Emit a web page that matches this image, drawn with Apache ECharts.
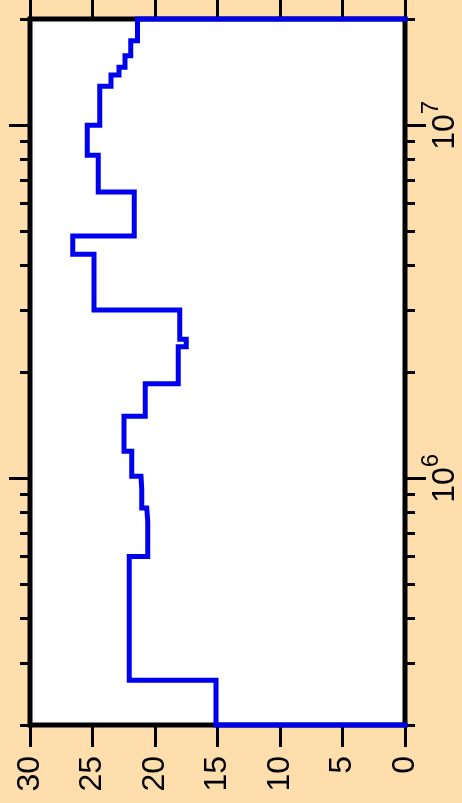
<!DOCTYPE html>
<html><head><meta charset="utf-8">
<script src="https://cdn.jsdelivr.net/npm/echarts@6/dist/echarts.min.js"></script>
<style>html,body{margin:0;padding:0;background:#FFDEAD;} #c{width:462px;height:803px;}</style>
</head><body><div id="c"></div>
<script>
// Step boundaries along the log axis and the value held on each step
const stepEdges = [2e5, 2.68e5, 6.0e5, 7.55e5, 8.24e5, 9.29e5, 1.013e6, 1.192e6, 1.498e6, 1.853e6,
  2.359e6, 2.476e6, 2.995e6, 4.31e6, 4.857e6, 6.475e6, 8.226e6, 1.0e7, 1.289e7, 1.387e7,
  1.459e7, 1.573e7, 1.736e7, 2e7];
const stepValues = [15.12, 22.06, 20.58, 20.66, 21.06, 21.12, 21.86, 22.48, 20.78, 18.14,
  17.5, 18.02, 24.88, 26.58, 21.66, 24.54, 25.42, 24.42, 23.52, 22.88,
  22.4, 21.94, 21.4];
const valueMin = 0, valueMax = 30, valueStep = 5;
const logMin = 2e5, logMax = 2e7;
const majorLogTicks = [1e6, 1e7];
const minorLogTicks = [2e5, 3e5, 4e5, 5e5, 6e5, 7e5, 8e5, 9e5, 2e6, 3e6, 4e6, 5e6, 6e6, 7e6, 8e6, 9e6, 2e7];

const pts = [[0, stepEdges[0]]];
for (let i = 0; i < stepValues.length; i++) {
  pts.push([stepValues[i], stepEdges[i]]);
  pts.push([stepValues[i], stepEdges[i + 1]]);
}
pts.push([0, stepEdges[stepEdges.length - 1]]);

const FONT = 'Liberation Sans, Arial, Helvetica, sans-serif';
const tickStyle = {color: '#000', width: 3};

function xAx(pos, showLabel) {
  return {
    type: 'value', min: valueMin, max: valueMax, interval: valueStep, inverse: true, position: pos,
    axisLine: {show: false}, splitLine: {show: false},
    axisTick: {show: true, inside: false, length: 22, lineStyle: tickStyle},
    axisLabel: {show: showLabel, rotate: 90, margin: 31, fontSize: 32, color: '#000', fontFamily: FONT}
  };
}
function yAx(pos, ticks, len, labels) {
  return {
    type: 'log', logBase: 10, min: logMin, max: logMax, position: pos,
    axisLine: {show: false}, splitLine: {show: false}, minorTick: {show: false},
    axisTick: {show: true, inside: false, customValues: ticks, length: len, lineStyle: tickStyle},
    axisLabel: labels ? {
      show: true, customValues: ticks, rotate: 90, margin: 14, color: '#000', fontFamily: FONT,
      formatter: function (v) { return '{b|10}{s|' + Math.round(Math.log10(v)) + '}'; },
      rich: {
        b: {fontSize: 32, fontFamily: FONT, color: '#000'},
        s: {fontSize: 24, fontFamily: FONT, color: '#000', padding: [0, 0, 28, 0]}
      }
    } : {show: false}
  };
}

const chart = echarts.init(document.getElementById('c'), null, {renderer: 'canvas'});
chart.setOption({
  backgroundColor: '#FFDEAD',
  animation: false,
  grid: {left: 30, top: 19, width: 375, height: 706, show: true, backgroundColor: '#fff',
    borderColor: '#000', borderWidth: 5, containLabel: false, outerBoundsMode: 'none'},
  xAxis: [xAx('bottom', true), xAx('top', false)],
  yAxis: [
    yAx('right', majorLogTicks, 21, true),
    yAx('right', minorLogTicks, 10, false),
    yAx('left', majorLogTicks, 21, false),
    yAx('left', minorLogTicks, 10, false)
  ],
  series: [{
    type: 'line', xAxisIndex: 0, yAxisIndex: 0, data: pts,
    symbol: 'none', showSymbol: false, clip: false, z: 5,
    lineStyle: {color: '#0000f0', width: 5, join: 'miter', cap: 'square'}
  }]
});
</script></body></html>
